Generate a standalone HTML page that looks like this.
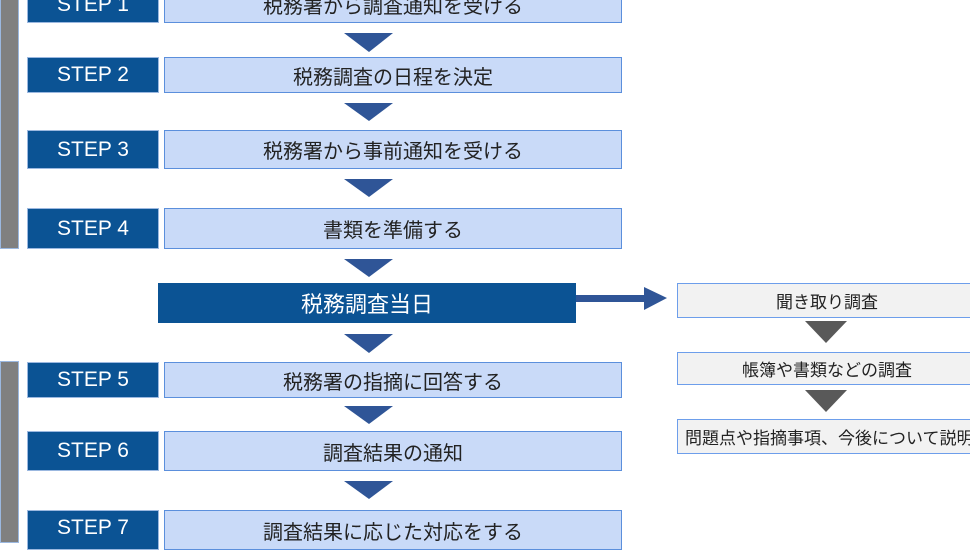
<!DOCTYPE html>
<html><head><meta charset="utf-8"><style>
body{margin:0;width:970px;height:540px;overflow:hidden;background:#fff;position:relative;font-family:"Liberation Sans","Noto Sans CJK JP",sans-serif}
.a{position:absolute;box-sizing:border-box;display:flex;align-items:center;justify-content:center}
.s{background:#0b5394;color:#fff;font-size:21px;left:27px;width:132px;border:1px solid #9bb8e0}
.c{background:#c9daf8;color:#222;font-size:20px;left:164px;width:458px;border:1px solid #5b8fdc}
.r{background:#f2f2f2;color:#222;font-size:17px;left:677px;width:300px;border:1px solid #6d9eeb}
.g{position:absolute;left:0;width:19px;background:#808080;border:1px solid #9bb8e0;box-sizing:border-box}
</style></head><body>
<div class="g" style="top:-2px;height:251px"></div>
<div class="g" style="top:361px;height:182px"></div>
<div class="a s" style="top:-14px;height:37px">STEP 1</div><div class="a c" style="top:-14px;height:37px">税務署から調査通知を受ける</div>
<div class="a s" style="top:57px;height:36px">STEP 2</div><div class="a c" style="top:57px;height:36px">税務調査の日程を決定</div>
<div class="a s" style="top:130px;height:39px">STEP 3</div><div class="a c" style="top:130px;height:39px">税務署から事前通知を受ける</div>
<div class="a s" style="top:208px;height:41px">STEP 4</div><div class="a c" style="top:208px;height:41px">書類を準備する</div>
<div class="a" style="left:158px;top:283px;width:418px;height:40px;background:#0b5394;color:#fff;font-size:22px">税務調査当日</div>
<div class="a s" style="top:362px;height:36px">STEP 5</div><div class="a c" style="top:362px;height:36px">税務署の指摘に回答する</div>
<div class="a s" style="top:431px;height:40px">STEP 6</div><div class="a c" style="top:431px;height:40px">調査結果の通知</div>
<div class="a s" style="top:510px;height:40px;align-items:flex-start;padding-top:5px">STEP 7</div><div class="a c" style="top:510px;height:40px;align-items:flex-start;padding-top:5px">調査結果に応じた対応をする</div>
<div class="a r" style="top:283px;height:35px">聞き取り調査</div>
<div class="a r" style="top:352px;height:33px">帳簿や書類などの調査</div>
<div class="a r" style="top:419px;height:35px;justify-content:flex-start;padding-left:7px;white-space:nowrap">問題点や指摘事項、今後について説明</div>
<svg width="970" height="540" style="position:absolute;left:0;top:0">
<g fill="#2f5597">
<polygon points="344,33 393,33 369,52"/>
<polygon points="344,103 393,103 369,121"/>
<polygon points="344,179 393,179 369,197"/>
<polygon points="344,259 393,259 369,277"/>
<polygon points="344,334 393,334 369,353"/>
<polygon points="344,406 393,406 369,424"/>
<polygon points="344,481 393,481 369,499"/>
<rect x="576" y="295" width="70" height="7"/>
<polygon points="644,287 667,298 644,310"/>
</g>
<g fill="#595959">
<polygon points="805,321 847,321 826,343"/>
<polygon points="805,390 847,390 826,412"/>
</g>
</svg>
</body></html>
